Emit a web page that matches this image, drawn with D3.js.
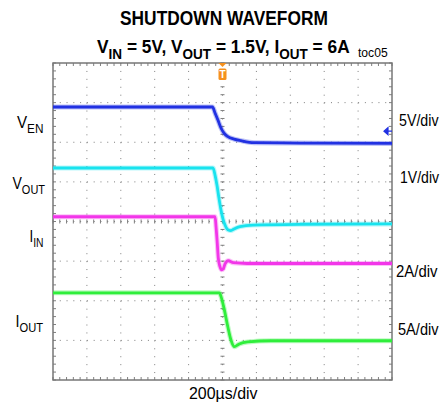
<!DOCTYPE html>
<html lang="en">
<head>
<meta charset="utf-8">
<title>Shutdown Waveform</title>
<script src="https://d3js.org/d3.v7.min.js"></script>
<style>
  body { margin: 0; background: #fff; }
  svg { display: block; font-family: "Liberation Sans", Arial, sans-serif; }
  text { white-space: pre; }
</style>
</head>
<body>
<svg width="442" height="404"></svg>
<script>
// time in µs (200µs/div), level in divisions from screen centre
const ven  = [[-1000, 2.89], [-59, 2.89], [-44, 2.74], [-27, 2.56], [-9, 2.36], [9, 2.23],
              [32, 2.14], [68, 2.08], [109, 2.04], [186, 1.99], [457, 1.98], [1000, 1.97]];
const vout = [[-1000, 1.35], [-56, 1.35], [-44, 1.17], [-32, 0.90], [-21, 0.59], [-9, 0.29],
              [3, 0.06], [15, -0.09], [32, -0.21], [50, -0.23], [68, -0.19], [103, -0.13],
              [180, -0.09], [457, -0.07], [1000, -0.06]];
const iin  = [[-1000, 0.12], [-44, 0.12], [-38, -0.14], [-31, -0.54], [-25, -0.92], [-15, -1.14],
              [-5, -1.22], [5, -1.19], [15, -1.07], [34, -0.99], [64, -1.04], [145, -1.06], [1000, -1.06]];
const iout = [[-1000, -1.80], [-18, -1.80], [-9, -1.89], [11, -2.23], [31, -2.65], [50, -2.99],
              [70, -3.16], [99, -3.09], [149, -3.04], [286, -3.01], [1000, -3.01]];

const traceColors = ["#2131e2", "#19e3ee", "#f236e9", "#2fee3b"];
const scaleLabels = ["5V/div", "1V/div", "2A/div", "5A/div"];
const timeLabel = "200µs/div";

const svg = d3.select("svg");
const pL = 53, pR = 392, pT = 63, pB = 380;

const x = d3.scaleLinear().domain([-1000, 1000]).range([pL, pR]);
const y = d3.scaleLinear().domain([-4, 4]).range([pB, pT]);

const minorX = (x(200) - x(0)) / 5;
const minorY = (y(0) - y(1)) / 5;
const gridColor = "#7f7f7f";

// dotted graticule
const grid = svg.append("g");
grid.selectAll(".vg")
  .data(d3.range(-800, 801, 200))
  .enter().append("line")
  .attr("x1", d => x(d)).attr("x2", d => x(d))
  .attr("y1", pT).attr("y2", pB)
  .attr("stroke", gridColor).attr("stroke-width", 1)
  .attr("stroke-dasharray", `1 ${minorY - 1}`);
grid.selectAll(".hg")
  .data(d3.range(-3, 4, 1))
  .enter().append("line")
  .attr("y1", d => y(d)).attr("y2", d => y(d))
  .attr("x1", pL).attr("x2", pR)
  .attr("stroke", gridColor).attr("stroke-width", 1)
  .attr("stroke-dasharray", `1 ${minorX - 1}`);

// minor ticks on the centre axes and the frame edges
const minorTimes = d3.range(-1000, 1001, 40);
const minorDivs = d3.range(-4, 4.01, 0.2);
grid.selectAll(".tx")
  .data(minorTimes)
  .enter().append("path")
  .attr("d", d => `M${x(d)},${y(0) - 2}V${y(0) + 2}M${x(d)},${pT}v3M${x(d)},${pB}v-3`)
  .attr("stroke", gridColor).attr("stroke-width", 1);
grid.selectAll(".ty")
  .data(minorDivs)
  .enter().append("path")
  .attr("d", d => `M${x(0) - 2},${y(d)}H${x(0) + 2}M${pL},${y(d)}h3M${pR},${y(d)}h-3`)
  .attr("stroke", gridColor).attr("stroke-width", 1);

svg.append("rect")
  .attr("x", pL).attr("y", pT)
  .attr("width", pR - pL).attr("height", pB - pT)
  .attr("fill", "none").attr("stroke", "#777").attr("stroke-width", 1.5);

// traces
const line = d3.line().curve(d3.curveMonotoneX).x(d => x(d[0])).y(d => y(d[1]));
[ven, vout, iin, iout].forEach((data, i) => {
  svg.append("path").datum(data)
    .attr("d", line).attr("fill", "none")
    .attr("stroke", traceColors[i]).attr("stroke-width", 5).attr("opacity", 0.3)
    .attr("stroke-linejoin", "round");
  svg.append("path").datum(data)
    .attr("d", line).attr("fill", "none")
    .attr("stroke", traceColors[i]).attr("stroke-width", 2.8)
    .attr("stroke-linejoin", "round");
});

// trigger marker
const trig = svg.append("g").attr("fill", "#f5911e");
trig.append("path").attr("d", `M${x(0) - 4},${pT}h8l-4,4z`);
trig.append("rect").attr("x", x(0) - 4).attr("y", pT + 5.5)
  .attr("width", 8).attr("height", 11.5).attr("rx", 1.5);
trig.append("text").attr("x", x(0)).attr("y", pT + 15)
  .attr("text-anchor", "middle").attr("fill", "#fff")
  .attr("font-size", 10).attr("font-weight", "bold").text("T");

// channel 1 reference arrow
svg.append("path")
  .attr("d", `M${pR - 8},${y(2.28)}l4,-3.5v7z M${pR - 5},${y(2.28)}H${pR}`)
  .attr("fill", traceColors[0]).attr("stroke", traceColors[0]).attr("stroke-width", 1.2);

// text helper: parts are [string, isSubscript]; squeezed horizontally to a given width
function label(parts, px, py, size, width, weight) {
  const t = svg.append("text")
    .attr("font-size", size)
    .attr("font-weight", weight || "normal")
    .attr("fill", "#000");
  let sub = false;
  const shift = size * 0.3;
  parts.forEach(([s, isSub]) => {
    const ts = t.append("tspan").text(s)
      .attr("font-size", isSub ? size * 0.78 : size);
    if (isSub && !sub) ts.attr("dy", shift);
    if (!isSub && sub) ts.attr("dy", -shift);
    sub = isSub;
  });
  const w = t.node().getBBox().width;
  t.attr("transform", `translate(${px},${py}) scale(${width / w},1)`);
  return t;
}

label([["SHUTDOWN WAVEFORM", 0]], 120, 25, 20, 208, "bold");
label([["V", 0], ["IN", 1], [" = 5V, V", 0], ["OUT", 1], [" = 1.5V, I", 0], ["OUT", 1], [" = 6A", 0]],
  97, 53.3, 19, 253, "bold");
label([["toc05", 0]], 358, 56.5, 12, 30);

label([["V", 0], ["EN", 1]], 17, 128.3, 17, 26.5);
label([["V", 0], ["OUT", 1]], 12.5, 189.3, 17, 32.5);
label([["I", 0], ["IN", 1]], 29.5, 241.5, 17, 14);
label([["I", 0], ["OUT", 1]], 15.5, 326.7, 17, 27.5);

const labelPos = [[399, 126, 40], [400, 183, 39.5], [396, 276.5, 42], [398, 335, 41]];
scaleLabels.forEach((s, i) => {
  const p = labelPos[i];
  label([[s, 0]], p[0], p[1], 17, p[2]);
});
label([[timeLabel, 0]], 189, 399, 17, 69);
</script>
</body>
</html>
